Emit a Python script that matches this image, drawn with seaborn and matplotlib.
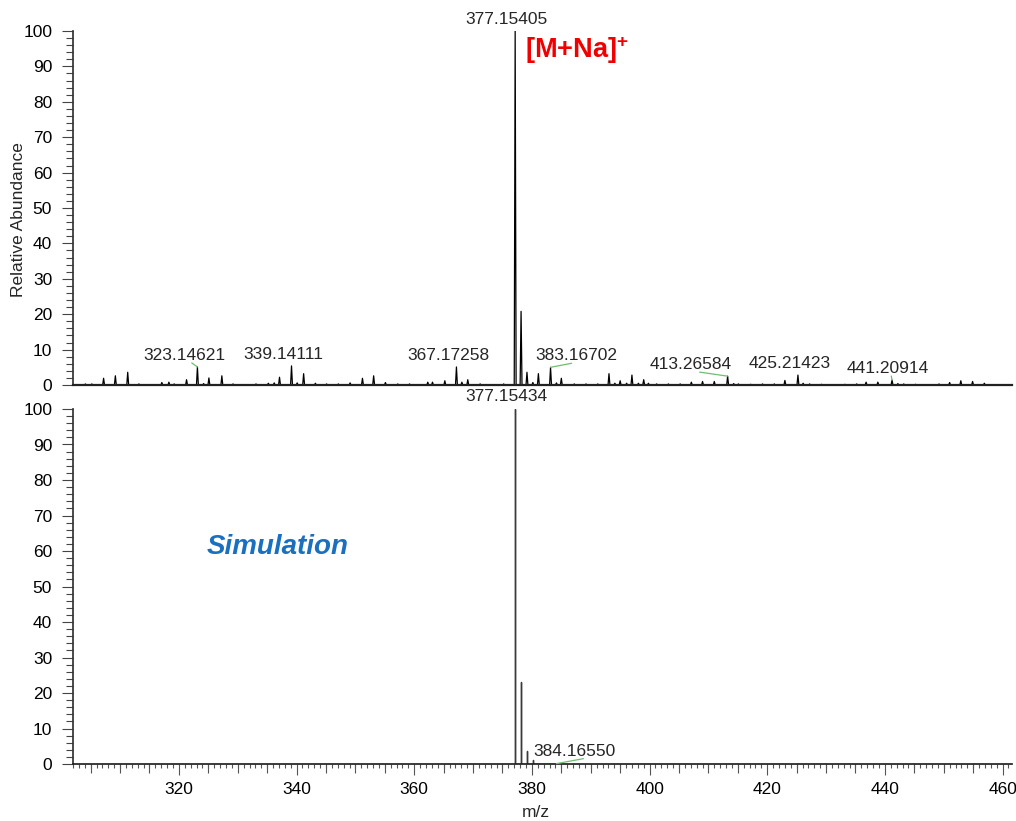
import numpy as np
import pandas as pd
import matplotlib
matplotlib.use("Agg")
import matplotlib.pyplot as plt
from matplotlib.ticker import MultipleLocator, FixedLocator
import seaborn as sns

# ---------------- data ----------------
# Measured spectrum (top panel): m/z and relative abundance
measured_mz = [304.1, 305.2, 307.2, 309.2, 311.3, 313.2, 317.1, 318.3, 319.2, 321.3,
               323.14621, 324.2, 325.1, 327.3, 329.2, 333.1, 335.2, 336.2, 337.1, 339.14111,
               340.1, 341.2, 343.2, 345.1, 347.1, 349.1, 351.2, 353.1, 355.1, 357.2,
               359.2, 362.3, 363.1, 365.2, 367.17258, 368.1, 369.1, 371.2, 375.2, 377.15405,
               378.157, 379.16, 380.16, 381.1, 383.16702, 384.17, 385.0, 387.2, 389.2, 391.2,
               393.1, 394.1, 395.0, 396.1, 397.0, 398.1, 399.0, 399.8, 401.2, 403.2,
               405.2, 407.1, 409.0, 411.0, 413.26584, 414.3, 415.1, 417.2, 419.2, 421.2,
               423.0, 425.21423, 426.1, 427.2, 429.2, 433.2, 435.2, 436.8, 438.8, 441.20914,
               442.2, 443.2, 445.2, 449.2, 451.0, 452.9, 454.9, 456.9]
measured_ab = [0.3, 0.3, 1.9, 2.6, 3.6, 0.3, 0.7, 0.8, 0.3, 1.5,
               5.1, 0.4, 2.0, 2.6, 0.3, 0.3, 0.5, 0.6, 2.2, 5.4,
               0.6, 3.2, 0.5, 0.3, 0.3, 0.6, 1.9, 2.6, 0.7, 0.3,
               0.3, 0.8, 0.8, 1.2, 5.1, 0.8, 1.5, 0.3, 0.3, 100.0,
               20.8, 3.6, 0.7, 3.2, 5.0, 0.6, 1.9, 0.3, 0.3, 0.3,
               3.2, 0.5, 1.2, 0.5, 2.8, 0.5, 1.5, 0.5, 0.3, 0.3,
               0.3, 0.8, 1.0, 1.0, 2.5, 0.4, 0.3, 0.2, 0.3, 0.3,
               1.3, 2.8, 0.5, 0.3, 0.2, 0.2, 0.3, 0.8, 0.8, 1.4,
               0.4, 0.3, 0.2, 0.3, 0.7, 1.2, 1.0, 0.5]
measured_labels = ["377.15405", "323.14621", "339.14111", "367.17258",
                   "383.16702", "413.26584", "425.21423", "441.20914"]

# Simulated isotope pattern (bottom panel)
sim_mz = [377.15434, 378.1577, 379.1604, 380.1630, 384.16550]
sim_ab = [100.0, 23.2, 3.7, 1.2, 0.1]
sim_labels = ["377.15434", "384.16550"]

x_range = (302.0, 461.6)
y_ticks = [0, 10, 20, 30, 40, 50, 60, 70, 80, 90, 100]
x_ticks = [320, 340, 360, 380, 400, 420, 440, 460]

# ---------------- style ----------------
sns.set_theme(style="ticks")
plt.rcParams["font.family"] = ["Liberation Sans", "DejaVu Sans"]
plt.rcParams["mathtext.fontset"] = "custom"
plt.rcParams["mathtext.rm"] = "Liberation Sans"
plt.rcParams["mathtext.bf"] = "Liberation Sans:bold"
plt.rcParams["mathtext.default"] = "bf"

FS = 12.5
GREEN = "#6cbf6c"

fig = plt.figure(figsize=(10.16, 8.21), dpi=100)
ax1 = fig.add_axes([73 / 1016, 1 - 385 / 821, 939 / 1016, 354 / 821])
ax2 = fig.add_axes([73 / 1016, 1 - 764 / 821, 939 / 1016, 355 / 821])

# ---- top: profile spectrum built from the peak list ----
half_w = 0.16
prof_x, prof_y = [x_range[0]], [0.0]
for m, h in sorted(zip(measured_mz, measured_ab)):
    prof_x += [m - half_w, m, m + half_w]
    prof_y += [0.0, h, 0.0]
prof_x.append(x_range[1])
prof_y.append(0.0)
df_top = pd.DataFrame({"mz": prof_x, "ab": prof_y})
sns.lineplot(data=df_top, x="mz", y="ab", sort=False, estimator=None,
             color="black", lw=0.9, ax=ax1)

# ---- bottom: centroid sticks ----
st_x, st_y = [], []
for m, h in zip(sim_mz, sim_ab):
    st_x += [m, m, m]
    st_y += [0.0, h, 0.0]
df_bot = pd.DataFrame({"mz": st_x, "ab": st_y})
sns.lineplot(data=df_bot, x="mz", y="ab", sort=False, estimator=None,
             color="#3a3a3a", lw=1.0, ax=ax2)

# ---- axes formatting ----
for ax in (ax1, ax2):
    ax.set_xlim(*x_range)
    ax.set_ylim(0, 100)
    ax.set_yticks(y_ticks)
    ax.yaxis.set_minor_locator(MultipleLocator(2))
    ax.tick_params(axis="y", which="major", length=8, width=0.8, color="#444444",
                   labelsize=FS, pad=7, labelcolor="black")
    ax.tick_params(axis="y", which="minor", length=5, width=0.8, color="#444444")
    for s in ("top", "right"):
        ax.spines[s].set_visible(False)
    ax.spines["left"].set_color("#333333")
    ax.spines["bottom"].set_color("#222222")
    ax.set_xlabel("")
    ax.set_ylabel("")

ax1.spines["bottom"].set_linewidth(1.6)
ax1.tick_params(axis="x", which="both", bottom=False, labelbottom=False)

ax2.set_xticks(x_ticks)
ax2.xaxis.set_minor_locator(MultipleLocator(1))
ax2.tick_params(axis="x", which="major", length=8, width=0.8, color="#555555",
                labelsize=FS, pad=5, labelcolor="black")
ax2.tick_params(axis="x", which="minor", length=3, width=0.8, color="#555555")
sec = ax2.secondary_xaxis("bottom")
sec.xaxis.set_major_locator(FixedLocator([v for v in range(305, 465, 5) if v % 20 != 0]))
sec.tick_params(axis="x", length=6.5, width=0.8, color="#555555", labelbottom=False)
sec.spines["bottom"].set_visible(False)

ax1.set_ylabel("Relative Abundance", fontsize=FS)
ax1.yaxis.set_label_coords(-0.050, 0.466)
ax2.set_xlabel("m/z", fontsize=FS)
ax2.xaxis.set_label_coords(0.493, -0.115)

# ---- peak labels ----
lab_dx = {"377.15405": -6.5, "323.14621": -9.4, "339.14111": -6.0, "367.17258": -5.8,
          "383.16702": 18.7, "413.26584": -26.6, "425.21423": -5.8, "441.20914": -2.9,
          "377.15434": -6.5, "384.16550": 13.0}
leader = {"323.14621": 0.59, "383.16702": 0.44, "413.26584": 0.61,
          "441.20914": 0.54, "384.16550": 0.61}


def label_peaks(ax, mzs, abs_, labels, dy):
    for lab in labels:
        m = float(lab)
        i = int(np.argmin([abs(v - m) for v in mzs]))
        h = abs_[i]
        kw = {}
        if lab in leader:
            kw["arrowprops"] = dict(arrowstyle="-", color=GREEN, lw=0.9,
                                    shrinkA=0, shrinkB=0, patchA=None,
                                    relpos=(leader[lab], 0.0))
        ax.annotate(lab, xy=(mzs[i], h), xytext=(lab_dx[lab], dy),
                    textcoords="offset points", ha="center", va="center",
                    fontsize=FS, annotation_clip=False, **kw)


label_peaks(ax1, measured_mz, measured_ab, measured_labels, 8.3)
label_peaks(ax2, sim_mz, sim_ab, sim_labels, 9.0)

ax1.text(378.9, 94.6, "[M+Na]$^{+}$", color="#f00000", fontsize=19.5,
         fontweight="bold", ha="left", va="center")
ax2.text(324.75, 61.1, "Simulation", color="#1a70c0", fontsize=20,
         fontweight="bold", fontstyle="italic", ha="left", va="center")

fig.savefig("out.png", dpi=100)
